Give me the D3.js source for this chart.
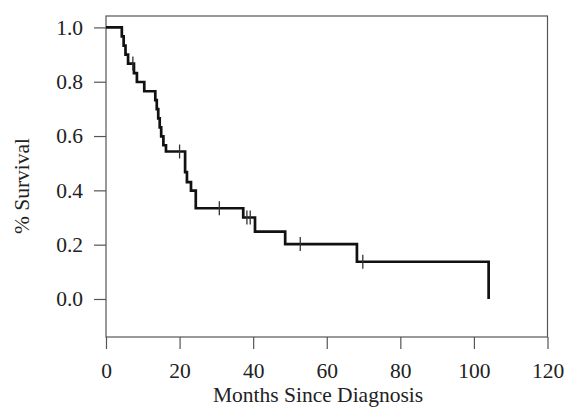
<!DOCTYPE html>
<html>
<head>
<meta charset="utf-8">
<script src="https://cdn.jsdelivr.net/npm/d3@7"></script>
<style>
  body { margin: 0; background: #fff; }
  svg { display: block; }
</style>
</head>
<body>
<div class="center"></div>
<script>
// Kaplan-Meier survival curve

// step times (months) and survival right after each step
const stepTimes = [0, 4.3, 4.8, 5.3, 6.0, 7.6, 8.4, 10.4, 13.4, 13.8, 14.2, 14.6, 15.0, 15.6, 16.3,
                   21.5, 22.0, 23.1, 24.4, 37.3, 40.5, 48.7, 68.2, 104.0];
const survival  = [1.0, 0.967, 0.933, 0.900, 0.867, 0.832, 0.799, 0.765, 0.732, 0.699, 0.665, 0.632, 0.599, 0.566, 0.543,
                   0.467, 0.430, 0.399, 0.334, 0.300, 0.248, 0.202, 0.137, 0.0];

// censored observations (months)
const censorTimes = [7.3, 20.0, 30.8, 38.3, 39.2, 52.8, 69.8];

// axis ticks
const xTicks = [0, 20, 40, 60, 80, 100, 120];
const yTicks = [0.0, 0.2, 0.4, 0.6, 0.8, 1.0];

const W = 564, H = 408;
const box = {left: 106, right: 547.5, top: 16, bottom: 337};

const font = "'Liberation Serif', 'Times New Roman', serif";
const fontSize = "21.5px";

const xScale = d3.scaleLinear().domain([0, 120]).range([box.left, box.right]);
const yScale = d3.scaleLinear().domain([-0.14, 1.042]).range([box.bottom, box.top]);

const svg = d3.select(".center").append("svg")
    .attr("width", W)
    .attr("height", H);

// frame
svg.append("rect")
    .attr("x", box.left)
    .attr("y", box.top)
    .attr("width", box.right - box.left)
    .attr("height", box.bottom - box.top)
    .attr("fill", "none")
    .attr("stroke", "#555")
    .attr("stroke-width", 1.2);

// axes
const xAxis = d3.axisBottom(xScale)
    .tickValues(xTicks)
    .tickSize(12)
    .tickPadding(14)
    .tickSizeOuter(0)
    .tickFormat(d3.format("d"));

const yAxis = d3.axisLeft(yScale)
    .tickValues(yTicks)
    .tickSize(12)
    .tickPadding(11)
    .tickSizeOuter(0)
    .tickFormat(d3.format(".1f"));

const gx = svg.append("g")
    .attr("transform", `translate(0,${box.bottom})`)
    .call(xAxis);

const gy = svg.append("g")
    .attr("transform", `translate(${box.left},0)`)
    .call(yAxis);

[gx, gy].forEach(g => {
    g.select(".domain").remove();
    g.selectAll("line").attr("stroke", "#555").attr("stroke-width", 1.2);
    g.selectAll("text")
        .style("font-family", font)
        .style("font-size", fontSize)
        .attr("fill", "#222");
});

// axis titles
svg.append("text")
    .attr("x", 318)
    .attr("y", 402)
    .attr("text-anchor", "middle")
    .style("font-family", font)
    .style("font-size", fontSize)
    .attr("fill", "#222")
    .text("Months Since Diagnosis");

svg.append("text")
    .attr("transform", "translate(29,186) rotate(-90)")
    .attr("text-anchor", "middle")
    .style("font-family", font)
    .style("font-size", fontSize)
    .attr("fill", "#222")
    .text("% Survival");

// survival curve
const pts = stepTimes.map((t, i) => [t, survival[i]]);

const line = d3.line()
    .x(d => xScale(d[0]))
    .y(d => yScale(d[1]))
    .curve(d3.curveStepAfter);

svg.append("path")
    .datum(pts)
    .attr("d", line)
    .attr("fill", "none")
    .attr("stroke", "#111")
    .attr("stroke-width", 2.7);

// survival at a given time (step function)
function survAt(t) {
    let s = survival[0];
    stepTimes.forEach((st, i) => { if (st <= t) s = survival[i]; });
    return s;
}

// censor marks
svg.selectAll(".censor")
    .data(censorTimes)
    .enter().append("line")
    .attr("class", "censor")
    .attr("x1", d => xScale(d))
    .attr("x2", d => xScale(d))
    .attr("y1", d => yScale(survAt(d)) - 7)
    .attr("y2", d => yScale(survAt(d)) + 7)
    .attr("stroke", "#333")
    .attr("stroke-width", 1.3);
</script>
</body>
</html>
